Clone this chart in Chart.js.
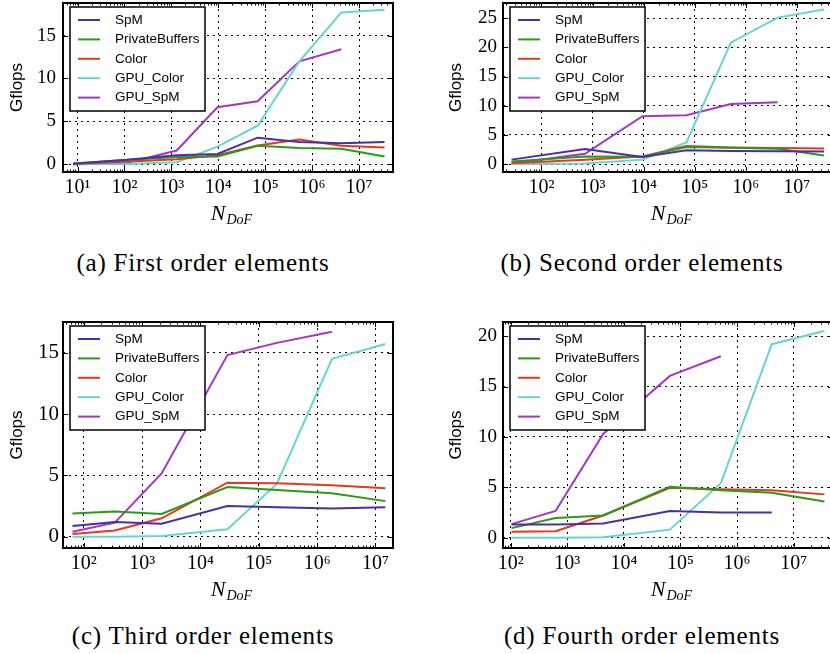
<!DOCTYPE html>
<html>
<head>
<meta charset="utf-8">
<script src="https://cdn.jsdelivr.net/npm/chart.js@4.4.1/dist/chart.umd.min.js"></script>
<style>
html,body{margin:0;padding:0;width:830px;height:654px;overflow:hidden;background:#fff;}
.panel{position:absolute;}
.cap{position:absolute;font-family:"Liberation Serif",serif;font-size:25px;line-height:30px;letter-spacing:0.8px;white-space:nowrap;transform:translateX(-50%);color:#000;}
</style>
</head>
<body>
<canvas id="ca" class="panel" width="415" height="230" style="left:0;top:0"></canvas>
<canvas id="cb" class="panel" width="430" height="230" style="left:415px;top:0"></canvas>
<canvas id="cc" class="panel" width="415" height="305" style="left:0;top:310px"></canvas>
<canvas id="cd" class="panel" width="430" height="305" style="left:415px;top:310px"></canvas>
<div class="cap" style="left:203px;top:248px">(a) First order elements</div>
<div class="cap" style="left:642px;top:248px">(b) Second order elements</div>
<div class="cap" style="left:203px;top:621px">(c) Third order elements</div>
<div class="cap" style="left:642px;top:621px">(d) Fourth order elements</div>
<script>
// series names
var names = ['SpM', 'PrivateBuffers', 'Color', 'GPU_Color', 'GPU_SpM'];
var colors = ['#4a2ea8', '#2a9a18', '#e6391e', '#64d6d2', '#a437c2'];

// (a) first order
var xA = [8, 100, 1300, 9600, 69000, 535000, 4200000, 35000000];
var spmA = [0.05, 0.5, 1.05, 1.2, 3.1, 2.6, 2.45, 2.6];
var pbA = [0.1, 0.5, 0.85, 0.9, 2.15, 1.9, 1.8, 0.9];
var colA = [0.02, 0.3, 0.6, 1.05, 2.2, 2.9, 2.15, 1.95];
var gpuColA = [0, 0.02, 0.25, 2.05, 4.5, 12.0, 17.7, 18.0];
var gpuSpmA = [0, 0.1, 1.6, 6.65, 7.35, 12.0, 13.4, null];

// (b) second order
var xB = [26, 710, 9500, 69000, 510000, 4200000, 34000000];
var spmB = [0.75, 2.55, 1.2, 2.35, 2.25, 2.2, 2.15];
var pbB = [0.45, 1.3, 1.25, 2.9, 2.8, 2.6, 1.45];
var colB = [0.15, 0.75, 1.3, 3.1, 2.85, 2.75, 2.65];
var gpuColB = [0, 0.1, 0.75, 3.7, 20.8, 25.1, 26.5];
var gpuSpmB = [0.1, 1.75, 8.2, 8.35, 10.3, 10.6, null];

// (c) third order
var xC = [64, 340, 2160, 29000, 204000, 1800000, 14800000];
var spmC = [0.87, 1.2, 1.05, 2.5, 2.4, 2.3, 2.4];
var pbC = [1.9, 2.05, 1.85, 4.05, 3.8, 3.55, 2.9];
var colC = [0.22, 0.5, 1.5, 4.4, 4.35, 4.2, 3.95];
var gpuColC = [0, 0, 0.05, 0.6, 4.3, 14.5, 15.7];
var gpuSpmC = [0.4, 1.15, 5.15, 14.8, 15.8, 16.7, null];

// (d) fourth order
var xD = [103, 620, 4300, 65000, 517000, 4100000, 35000000];
var spmD = [1.3, 1.3, 1.4, 2.65, 2.5, 2.5, null];
var pbD = [0.95, 1.95, 2.2, 5.05, 4.7, 4.45, 3.6];
var colD = [0.6, 0.65, 2.2, 4.95, 4.8, 4.7, 4.3];
var gpuColD = [0, 0, 0.05, 0.8, 5.4, 19.2, 20.5];
var gpuSpmD = [1.35, 2.65, 10.3, 16.05, 18.0, null, null];

// ticks
var xTickVals = [10, 100, 1000, 10000, 100000, 1000000, 10000000];
var xTickLabels = ['10\u00b9', '10\u00b2', '10\u00b3', '10\u2074', '10\u2075', '10\u2076', '10\u2077'];
var yTicksA = [0, 5, 10, 15];
var yTicksB = [0, 5, 10, 15, 20, 25];
var yTicksC = [0, 5, 10, 15];
var yTicksD = [0, 5, 10, 15, 20];

function pts(xs, ys){
    var out = [];
    for (var i = 0; i < xs.length; i++) {
        if (ys[i] !== null) out.push({x: xs[i], y: ys[i]});
    }
    return out;
}

// frame, inward ticks, legend box and N_DoF label
var decor = {
    id: 'decor',
    afterDraw: function(chart){
        var ctx = chart.ctx, a = chart.chartArea;
        var xs = chart.scales.x, ys = chart.scales.y;
        ctx.save();
        ctx.strokeStyle = '#000';
        ctx.lineWidth = 1;
        var lo = Math.floor(Math.log10(xs.min)), hi = Math.ceil(Math.log10(xs.max));
        for (var e = lo; e <= hi; e++) {
            for (var m = 1; m < 10; m++) {
                var v = m * Math.pow(10, e);
                if (v < xs.min || v > xs.max) continue;
                var px = Math.round(xs.getPixelForValue(v)) + 0.5;
                var len = m === 1 ? 5 : 2.5;
                ctx.beginPath();
                ctx.moveTo(px, a.bottom); ctx.lineTo(px, a.bottom - len);
                ctx.moveTo(px, a.top); ctx.lineTo(px, a.top + len);
                ctx.stroke();
            }
        }
        ys.ticks.forEach(function(t){
            var py = Math.round(ys.getPixelForValue(t.value)) + 0.5;
            ctx.beginPath();
            ctx.moveTo(a.left, py); ctx.lineTo(a.left + 5, py);
            ctx.moveTo(a.right, py); ctx.lineTo(a.right - 5, py);
            ctx.stroke();
        });
        ctx.lineWidth = 2;
        ctx.strokeRect(a.left, a.top, a.right - a.left, a.bottom - a.top);

        // legend
        var bx = a.left + 7, by = a.top + 4, bw = 135, bh = 104;
        ctx.fillStyle = '#fff';
        ctx.fillRect(bx, by, bw, bh);
        ctx.lineWidth = 1.5;
        ctx.strokeRect(bx, by, bw, bh);
        ctx.font = '13.5px "Liberation Sans"';
        ctx.textBaseline = 'middle';
        chart.data.datasets.forEach(function(ds, i){
            var cy = by + 13 + i * 19.4;
            ctx.strokeStyle = ds.borderColor;
            ctx.lineWidth = 2;
            ctx.beginPath();
            ctx.moveTo(bx + 8, cy); ctx.lineTo(bx + 30, cy);
            ctx.stroke();
            ctx.fillStyle = '#000';
            ctx.fillText(ds.label, bx + 45, cy);
        });

        // x axis title N_DoF
        ctx.textBaseline = 'alphabetic';
        ctx.font = 'italic 22px "Liberation Serif"';
        var w1 = ctx.measureText('N').width;
        ctx.font = 'italic 14px "Liberation Serif"';
        var w2 = ctx.measureText('DoF').width;
        var x0 = (a.left + a.right) / 2 + 3 - (w1 + w2) / 2;
        var base = a.bottom + 48;
        ctx.fillStyle = '#000';
        ctx.font = 'italic 22px "Liberation Serif"';
        ctx.fillText('N', x0, base);
        ctx.font = 'italic 14px "Liberation Serif"';
        ctx.fillText('DoF', x0 + w1 + 1, base + 4);
        ctx.restore();
    }
};

function makeChart(id, xs, series, p){
    var sets = [];
    for (var i = 0; i < series.length; i++) {
        sets.push({
            label: names[i],
            data: pts(xs, series[i]),
            borderColor: colors[i],
            backgroundColor: colors[i],
            borderWidth: 2,
            pointRadius: 0,
            tension: 0,
            fill: false
        });
    }
    return new Chart(document.getElementById(id), {
        type: 'line',
        data: {datasets: sets},
        options: {
            responsive: false,
            animation: false,
            devicePixelRatio: 1,
            layout: {padding: {left: 0, right: p.padR, top: p.padT, bottom: 0}},
            plugins: {legend: {display: false}, tooltip: {enabled: false}},
            scales: {
                x: {
                    type: 'logarithmic',
                    min: p.xMin, max: p.xMax,
                    afterBuildTicks: function(s){
                        s.ticks = xTickVals.filter(function(v){ return v >= p.xMin && v <= p.xMax; })
                            .map(function(v){ return {value: v}; });
                    },
                    afterFit: function(s){ s.height = p.xH; s.paddingLeft = 0; s.paddingRight = 0; },
                    grid: {color: '#000', lineWidth: 1, drawTicks: false},
                    border: {display: false, dash: [2, 4]},
                    ticks: {
                        padding: 4, color: '#000', maxRotation: 0, autoSkip: false,
                        font: {family: 'Liberation Serif', size: 20},
                        callback: function(v){ return xTickLabels[xTickVals.indexOf(v)]; }
                    }
                },
                y: {
                    type: 'linear',
                    min: p.yMin, max: p.yMax,
                    afterBuildTicks: function(s){
                        s.ticks = p.yTicks.map(function(v){ return {value: v}; });
                    },
                    afterFit: function(s){ s.width = p.yW; s.paddingTop = 0; s.paddingBottom = 0; },
                    grid: {color: '#000', lineWidth: 1, drawTicks: false},
                    border: {display: false, dash: [2, 4]},
                    ticks: {
                        padding: p.tickPad, color: '#000',
                        font: {family: 'Liberation Serif', size: p.yFont},
                        callback: function(v){ return String(v); }
                    },
                    title: {
                        display: true, text: 'Gflops', color: '#000',
                        font: {family: 'Liberation Sans', size: 17},
                        padding: {top: p.titlePad, bottom: 0}
                    }
                }
            }
        },
        plugins: [decor]
    });
}

makeChart('ca', xA, [spmA, pbA, colA, gpuColA, gpuSpmA],
    {xMin: 4.9, xMax: 5.3e7, yMin: -0.9, yMax: 18.8, yTicks: yTicksA, yW: 63, xH: 58, padR: 22, padT: 3, titlePad: 7, yFont: 19, tickPad: 7});
makeChart('cb', xB, [spmB, pbB, colB, gpuColB, gpuSpmB],
    {xMin: 17.7, xMax: 5.1e7, yMin: -1.37, yMax: 27.6, yTicks: yTicksB, yW: 88, xH: 58, padR: 12, padT: 3, titlePad: 31, yFont: 19, tickPad: 6});
makeChart('cc', xC, [spmC, pbC, colC, gpuColC, gpuSpmC],
    {xMin: 44, xMax: 2.0e7, yMin: -0.92, yMax: 17.5, yTicks: yTicksC, yW: 63, xH: 67, padR: 22, padT: 12, titlePad: 7, yFont: 21, tickPad: 4});
makeChart('cd', xD, [spmD, pbD, colD, gpuColD, gpuSpmD],
    {xMin: 73, xMax: 4.96e7, yMin: -1.02, yMax: 21.4, yTicks: yTicksD, yW: 88, xH: 67, padR: 12, padT: 12, titlePad: 31, yFont: 19, tickPad: 6});
</script>
</body>
</html>
